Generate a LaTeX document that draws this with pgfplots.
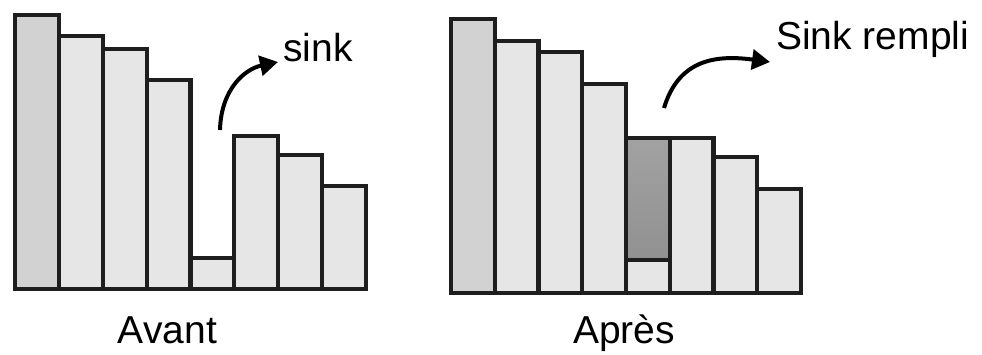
\documentclass[border=0pt]{standalone}
\usepackage{pgfplots}
\pgfplotsset{compat=1.18}
\usepackage{fontspec}
\setmainfont{Liberation Sans}
\usetikzlibrary{arrows.meta}
\definecolor{barfill}{HTML}{E6E6E6}
\definecolor{barfirst}{HTML}{D2D2D2}
\definecolor{sinktop}{HTML}{A2A2A2}
\definecolor{sinkmid}{HTML}{B2B2B2}
\definecolor{sinkbot}{HTML}{8C8C8C}
\definecolor{edge}{HTML}{1E1E1E}
\begin{document}
\begin{tikzpicture}
\useasboundingbox (0,0) rectangle (982pt,354pt);
\pgfplotsset{bars/.style={scale only axis, axis lines=none, xmin=0.5, xmax=8.5, ymin=0, ymax=276, height=276pt, clip=false, anchor=south west},
  barsty/.style={ybar, bar width=1, draw=edge, line width=4.2pt}}
\begin{axis}[bars, at={(15pt,65pt)}, width=351pt]
\addplot[barsty, fill=barfill] coordinates {(2,253)(3,240)(4,209)(5,31)(6,153)(7,134)(8,103)};
\addplot[barsty, fill=barfirst] coordinates {(1,274)};
\end{axis}
\begin{axis}[bars, at={(451pt,61pt)}, width=350pt]
\addplot[barsty, top color=sinktop, middle color=sinkmid, bottom color=sinkbot] coordinates {(5,155)};
\addplot[barsty, fill=barfill] coordinates {(2,252)(3,241)(4,209)(5,33)(6,155)(7,136)(8,104)};
\addplot[barsty, fill=barfirst] coordinates {(1,274)};
\end{axis}
\node[font=\fontsize{39}{47}\selectfont, anchor=base] at (167.5pt,11pt) {Avant};
\node[font=\fontsize{39}{47}\selectfont, anchor=base] at (624pt,11pt) {Après};
\node[font=\fontsize{39}{47}\selectfont, anchor=base west, inner sep=0pt] at (283pt,292pt) {sink};
\node[font=\fontsize{39}{47}\selectfont, anchor=base west, inner sep=0pt] at (776pt,304pt) {Sink rempli};
\draw[line width=4pt, -{Triangle[length=18pt,width=20pt]}] (220pt,224pt) .. controls (221pt,265pt) and (245pt,285pt) .. (278pt,292pt);
\draw[line width=4pt, -{Triangle[length=18pt,width=20pt]}] (664pt,246pt) .. controls (678pt,292pt) and (712pt,300pt) .. (770pt,292pt);
\end{tikzpicture}
\end{document}
